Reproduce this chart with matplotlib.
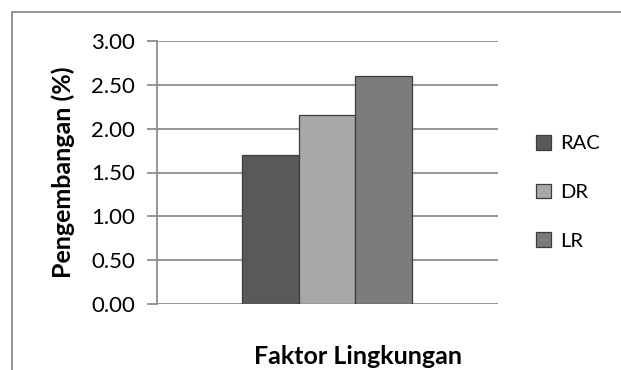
import matplotlib.pyplot as plt
from matplotlib.patches import Rectangle

# Data
kategori = ["RAC", "DR", "LR"]
nilai = [1.70, 2.16, 2.60]
warna = ["#595959", "#a8a8a8", "#7c7c7c"]
yticks = [0.0, 0.5, 1.0, 1.5, 2.0, 2.5, 3.0]

plt.rcParams['font.family'] = ['Lato', 'DejaVu Sans']

fig = plt.figure(figsize=(6.21, 3.70), dpi=100)
ax = fig.add_axes([157 / 621, 66 / 370, 341 / 621, 263 / 370])

# bingkai luar grafik (kanan/bawah terpotong seperti aslinya)
fig.patches.append(Rectangle((12 / 621, -0.1), 1.2, (358 / 370) + 0.1,
                             transform=fig.transFigure, fill=False,
                             edgecolor="#8c8c8c", linewidth=1.3))

lebar = 0.166
pusat = 0.498
for i, (k, v, c) in enumerate(zip(kategori, nilai, warna)):
    ax.bar(pusat + (i - 1) * lebar, v, width=lebar, color=c,
           edgecolor="#3c3c3c", linewidth=0.9, label=k, zorder=3)

ax.set_xlim(0, 1)
ax.set_ylim(0, 3.0)
ax.set_yticks(yticks)
ax.set_yticklabels(["%.2f" % t for t in yticks], fontsize=16)
ax.set_xticks([])
ax.grid(axis="y", color="#8c8c8c", linewidth=1.3, zorder=0)
for s in ["top", "right", "bottom"]:
    ax.spines[s].set_visible(False)
ax.spines["left"].set_color("#8c8c8c")
ax.spines["left"].set_linewidth(1.3)
ax.tick_params(axis="y", length=7, color="#8c8c8c", width=1.3, pad=9)

fig.text(63 / 621, 1 - 172 / 370, "Pengembangan (%)", fontsize=18,
         fontweight="bold", rotation=90, ha="center", va="center")
fig.text(358 / 621, 1 - 356 / 370, "Faktor Lingkungan", fontsize=18,
         fontweight="bold", ha="center", va="center")

leg = fig.legend(loc="upper left", bbox_to_anchor=(532 / 621, 1 - 131 / 370),
                 frameon=False, fontsize=14.5, handlelength=0.75,
                 handleheight=0.75, labelspacing=1.55, handletextpad=0.45,
                 borderaxespad=0, borderpad=0.2)

fig.savefig("out.png", dpi=100)
